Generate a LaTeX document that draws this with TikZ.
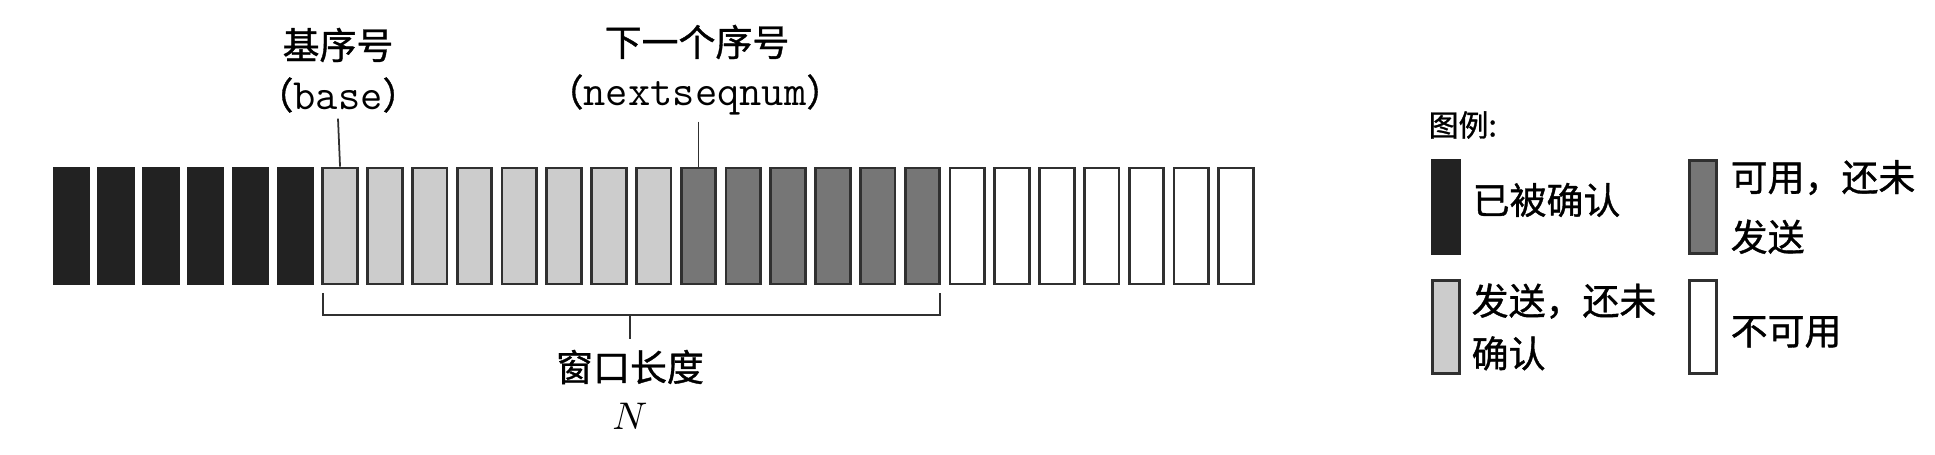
\documentclass[tikz,border=0pt]{standalone}
\usepackage{fontspec}
\setmainfont{Noto Sans CJK SC}[FakeBold=1]
\usepackage{tikz}
\usetikzlibrary{positioning}
\definecolor{acked}{RGB}{34,34,34}
\definecolor{sentwait}{RGB}{204,204,204}
\definecolor{usable}{RGB}{118,118,118}
\definecolor{pktline}{RGB}{48,48,48}
\newcommand{\seqvar}[1]{{\fontsize{12.3}{12}\selectfont\ttfamily #1}}
\tikzstyle{pkt} = [rectangle, draw=pktline, line width=0.8pt, minimum width=0.345cm, minimum height=1.16cm, inner sep=0pt]
\tikzstyle{legbox} = [pkt, minimum width=0.27cm, minimum height=0.93cm]
\tikzstyle{lbl} = [inner xsep=0pt, inner ysep=1.5pt, font=\fontsize{10.5}{12}\selectfont]
\tikzstyle{legtext} = [inner sep=0pt, anchor=west, align=left]
\tikzstyle{link} = [draw=pktline, line width=0.5pt]

\begin{document}
\begin{tikzpicture}[x=0.01cm, y=-0.01cm]
                    \useasboundingbox (0,0) rectangle (1935,455);
                    % sequence number space
                    \foreach \i in {0,...,5}
                        \node[pkt, fill=acked, draw=acked] (p\i) at (71.25+44.8*\i,226) {};
                    \foreach \i in {6,...,13}
                        \node[pkt, fill=sentwait] (p\i) at (71.25+44.8*\i,226) {};
                    \foreach \i in {14,...,19}
                        \node[pkt, fill=usable] (p\i) at (71.25+44.8*\i,226) {};
                    \foreach \i in {20,...,26}
                        \node[pkt, fill=white] (p\i) at (71.25+44.8*\i,226) {};

                    \node[lbl] (basename) at (338,45) {基序号};
                    \node[lbl] (basevar) at (338,95) {（\seqvar{base}）};
                    \draw[link] (basevar.south) -- (p6.north);

                    \node[lbl] (nextname) at (697,42) {下一个序号};
                    \node[lbl] (nextvar) at (695,95) {（\seqvar{nextseqnum}）};
                    \draw[link] (nextvar.south -| p14.north) -- (p14.north);

                    % window bracket
                    \coordinate (winl) at (322.8,293);
                    \coordinate (winr) at (939.7,293);
                    \coordinate (winmid) at (630,315);
                    \draw[link] (winl) |- (winmid) -| (winr);
                    \node[lbl, inner ysep=3pt] (winlen) at (630,367) {窗口长度};
                    \draw[link] (winmid) -- (winlen.north);
                    \node[inner sep=0pt, font=\fontsize{11}{12}\selectfont] (winN) at (630,416) {$N$};

                    % legend
                    \node[legtext, font=\fontsize{8.5}{10}\selectfont] (legtitle) at (1428,125) {图例:};
                    \node[legbox, fill=acked, draw=acked] (legacked) at (1446,207) {};
                    \node[legtext, font=\fontsize{10.5}{12}\selectfont] (txtacked) at (1472,200) {已被确认};
                    \node[legbox, fill=usable] (legusable) at (1703,207) {};
                    \node[legtext, font=\fontsize{10.5}{17}\selectfont] (txtusable) at (1730,207) {可用，还未\\发送};
                    \node[legbox, fill=sentwait] (legsent) at (1446,327) {};
                    \node[legtext, font=\fontsize{10.5}{15}\selectfont] (txtsent) at (1471,327) {发送，还未\\确认};
                    \node[legbox, fill=white] (legnone) at (1703,327) {};
                    \node[legtext, font=\fontsize{10.5}{12}\selectfont] (txtnone) at (1730,332) {不可用};
                \end{tikzpicture}
\end{document}
